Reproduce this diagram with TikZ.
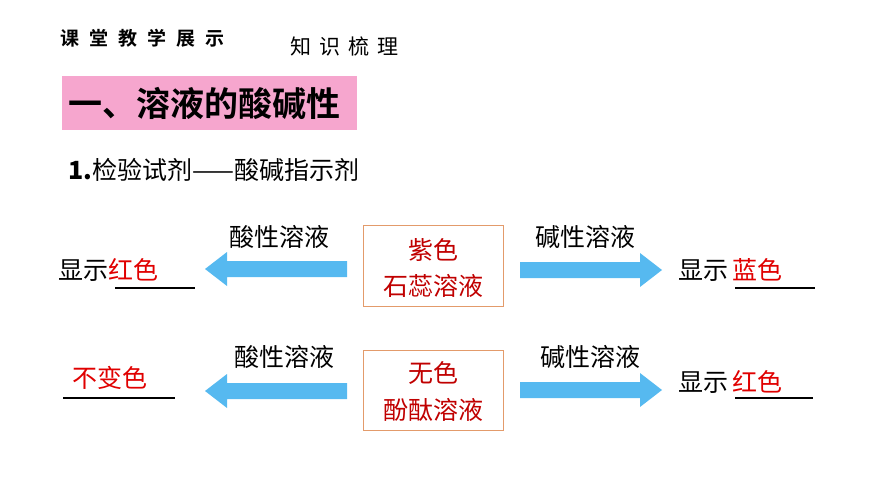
\documentclass[tikz,border=0pt]{standalone}
\usepackage{fontspec}
\setmainfont{Noto Sans CJK SC}
\newfontfamily\cjkb{Noto Sans CJK SC Bold}
\definecolor{dred}{HTML}{C00000}
\definecolor{rred}{HTML}{E00000}
\definecolor{arr}{HTML}{56B9F0}
\definecolor{pinkbg}{HTML}{F6A6CE}
\definecolor{obox}{HTML}{E39B6B}
\newcommand{\larrow}[3]{\fill[arr] (#1,#3-8) -- (#2+22,#3-8) -- (#2+22,#3-17) -- (#2,#3) -- (#2+22,#3+17) -- (#2+22,#3+8) -- (#1,#3+8) -- cycle;}
\newcommand{\rarrow}[3]{\fill[arr] (#1,#3-8) -- (#2-22,#3-8) -- (#2-22,#3-17) -- (#2,#3) -- (#2-22,#3+17) -- (#2-22,#3+8) -- (#1,#3+8) -- cycle;}
\begin{document}
\begin{tikzpicture}[x=1pt,y=-1pt,
  txt/.style={inner sep=0pt,font=\fontsize{25}{27}\selectfont},
  ibox/.style={draw=obox,line width=1pt,minimum width=140pt,minimum height=80pt,inner sep=0pt},
  uline/.style={line width=1.2pt}]
\useasboundingbox (0,0) rectangle (870,489);
\node[anchor=west,inner sep=0pt,font=\cjkb\fontsize{19}{20}\selectfont] (hd) at (60,38) {课\hspace{10pt}堂\hspace{10pt}教\hspace{10pt}学\hspace{10pt}展\hspace{10pt}示};
\node[anchor=west,inner sep=0pt,font=\fontsize{21}{22}\selectfont] (kz) at (290,46) {知\hspace{8pt}识\hspace{8pt}梳\hspace{8pt}理};
\fill[pinkbg] (62,76) rectangle (357,130);
\node[anchor=west,inner sep=0pt,font=\cjkb\fontsize{34}{36}\selectfont] (t1) at (68,103) {一、溶液的酸碱性};
\node[anchor=west,inner sep=0pt,font=\fontsize{25}{27}\selectfont] (t2) at (68,170) {\textbf{1.}检验试剂——酸碱指示剂};
% row 1
\node[ibox] (b1) at (433,266) {};
\node[txt,text=dred] (b1a) at (433,250) {紫色};
\node[txt,text=dred] (b1b) at (433,286) {石蕊溶液};
\larrow{347}{205}{269}
\rarrow{520}{662}{270}
\node[txt] (l1) at (279,237) {酸性溶液};
\node[txt] (r1) at (585,237) {碱性溶液};
\node[txt,anchor=west] (s1) at (58,270) {显示\textcolor{rred}{红色}};
\draw[uline] (115,288) -- (195,288);
\node[txt,anchor=west] (s2) at (678,270) {显示\,\textcolor{rred}{蓝色}};
\draw[uline] (735,288) -- (815,288);
% row 2
\node[ibox] (b2) at (433,390) {};
\node[txt,text=dred] (b2a) at (433,373) {无色};
\node[txt,text=dred] (b2b) at (433,410) {酚酞溶液};
\larrow{347}{205}{391}
\rarrow{520}{662}{390}
\node[txt] (l2) at (284,357) {酸性溶液};
\node[txt] (r2) at (590,357) {碱性溶液};
\node[txt,anchor=west,text=rred] (s3) at (72,378) {不变色};
\draw[uline] (63,398) -- (175,398);
\node[txt,anchor=west] (s4) at (678,382) {显示\,\textcolor{rred}{红色}};
\draw[uline] (735,398) -- (813,398);
\end{tikzpicture}
\end{document}
